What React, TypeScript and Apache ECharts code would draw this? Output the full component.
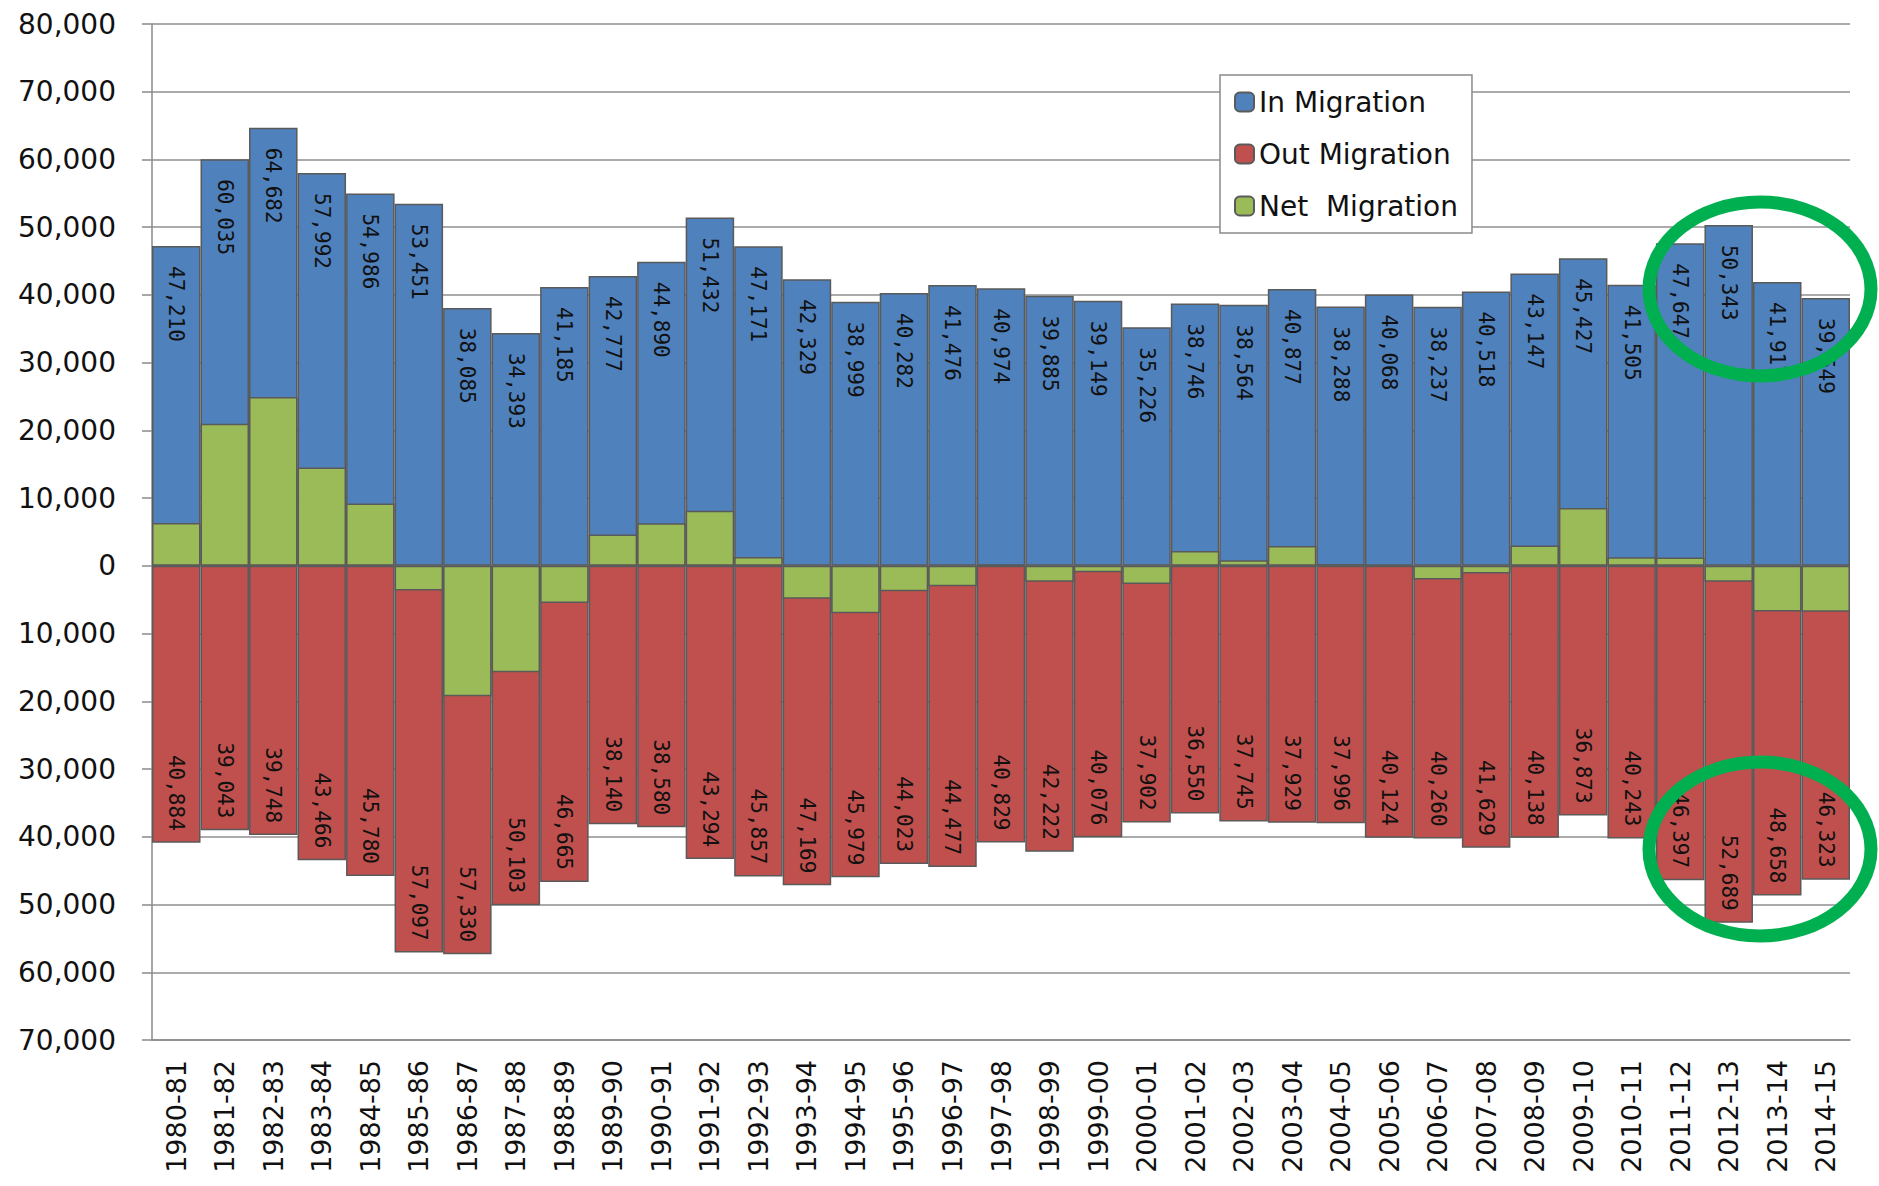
import React, { useEffect, useRef } from "react";
import * as echarts from "echarts";

const categories = [
  "1980-81", "1981-82", "1982-83", "1983-84", "1984-85", "1985-86", "1986-87",
  "1987-88", "1988-89", "1989-90", "1990-91", "1991-92", "1992-93", "1993-94",
  "1994-95", "1995-96", "1996-97", "1997-98", "1998-99", "1999-00", "2000-01",
  "2001-02", "2002-03", "2003-04", "2004-05", "2005-06", "2006-07", "2007-08",
  "2008-09", "2009-10", "2010-11", "2011-12", "2012-13", "2013-14", "2014-15",
];

const inMigration = [
  47210, 60035, 64682, 57992, 54986, 53451, 38085, 34393, 41185, 42777, 44890,
  51432, 47171, 42329, 38999, 40282, 41476, 40974, 39885, 39149, 35226, 38746,
  38564, 40877, 38288, 40068, 38237, 40518, 43147, 45427, 41505, 47647, 50343,
  41917, 39549,
];

const outMigration = [
  40884, 39043, 39748, 43466, 45780, 57097, 57330, 50103, 46665, 38140, 38580,
  43294, 45857, 47169, 45979, 44023, 44477, 40829, 42222, 40076, 37902, 36550,
  37745, 37929, 37996, 40124, 40260, 41629, 40138, 36873, 40243, 46397, 52689,
  48658, 46323,
];

const netMigration = [
  6326, 20992, 24934, 14526, 9206, -3646, -19245, -15710, -5480, 4637, 6310,
  8138, 1314, -4840, -6980, -3741, -3001, 145, -2337, -927, -2676, 2196, 819,
  2948, 292, -56, -2023, -1111, 3009, 8554, 1262, 1250, -2346, -6741, -6774,
];

const seriesNames = ["In Migration", "Out Migration", "Net  Migration"];

const fmt = (v: number) => Math.abs(Math.round(v)).toLocaleString("en-US");

export default function App() {
  const ref = useRef<HTMLDivElement>(null);
  useEffect(() => {
    document.body.style.margin = "0";
    if (!ref.current) return;
    const chart = echarts.init(ref.current, undefined, { renderer: "svg" });
    const border = { borderColor: "#5a5a5a", borderWidth: 1.5 };
    const labelFont = {
      fontFamily: "DejaVu Sans Mono",
      fontSize: 21,
      color: "#111",
    };
    chart.setOption({
      animation: false,
      backgroundColor: "#ffffff",
      grid: { left: 152, right: 29, top: 24, bottom: 146, containLabel: false },
      legend: {
        orient: "vertical",
        left: 1220,
        top: 75,
        padding: [13, 14, 13, 14],
        itemGap: 24,
        itemWidth: 19,
        itemHeight: 19,
        itemTextGap: 6,
        backgroundColor: "#fff",
        borderColor: "#8a8a8a",
        borderWidth: 1.5,
        textStyle: { fontFamily: "DejaVu Sans", fontSize: 28, color: "#111" },
        data: seriesNames,
      },
      xAxis: {
        type: "category",
        data: categories,
        boundaryGap: true,
        axisLine: { onZero: false, lineStyle: { color: "#8a8a8a", width: 1.5 } },
        axisTick: { show: false },
        axisLabel: {
          rotate: 90,
          margin: 20,
          fontFamily: "DejaVu Sans",
          fontSize: 27,
          color: "#111",
          interval: 0,
        },
        splitLine: { show: false },
      },
      yAxis: {
        type: "value",
        min: -70000,
        max: 80000,
        interval: 10000,
        axisLine: { show: true, lineStyle: { color: "#8a8a8a", width: 1.5 } },
        axisTick: { show: true, length: 10, lineStyle: { color: "#8a8a8a", width: 1.5 } },
        axisLabel: {
          margin: 36,
          fontFamily: "DejaVu Sans",
          fontSize: 28,
          color: "#111",
          formatter: (v: number) => fmt(v),
        },
        splitLine: { show: true, lineStyle: { color: "#8f8f8f", width: 1.5 } },
      },
      series: [
        {
          name: seriesNames[0],
          type: "bar",
          data: inMigration,
          barCategoryGap: "0%",
          barGap: "-100%",
          itemStyle: { color: "#4F81BD", ...border },
          label: {
            show: true,
            position: "insideTop",
            distance: 20,
            rotate: -90,
            align: "left",
            verticalAlign: "middle",
            formatter: (p: any) => fmt(p.value),
            ...labelFont,
          },
          z: 2,
        },
        {
          name: seriesNames[1],
          type: "bar",
          data: outMigration.map((v) => -v),
          barCategoryGap: "0%",
          barGap: "-100%",
          itemStyle: { color: "#C0504D", ...border },
          label: {
            show: true,
            position: "insideBottom",
            distance: 12,
            rotate: -90,
            align: "right",
            verticalAlign: "middle",
            formatter: (p: any) => fmt(p.value),
            ...labelFont,
          },
          z: 2,
        },
        {
          name: seriesNames[2],
          type: "bar",
          data: netMigration,
          barCategoryGap: "0%",
          barGap: "-100%",
          itemStyle: { color: "#9BBB59", ...border },
          label: { show: false },
          z: 3,
        },
      ],
      graphic: [
        {
          type: "ellipse",
          shape: { cx: 1760, cy: 289, rx: 111, ry: 87 },
          style: { fill: "none", stroke: "#00B050", lineWidth: 13 },
          z: 100,
        },
        {
          type: "ellipse",
          shape: { cx: 1760, cy: 849, rx: 111, ry: 87 },
          style: { fill: "none", stroke: "#00B050", lineWidth: 13 },
          z: 100,
        },
      ],
    });
    return () => chart.dispose();
  }, []);
  return (
    <div
      ref={ref}
      style={{ position: "absolute", left: 0, top: 0, width: 1879, height: 1186 }}
    />
  );
}
